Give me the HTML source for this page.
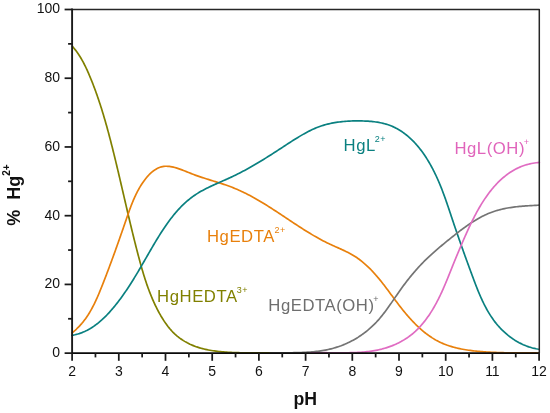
<!DOCTYPE html>
<html><head><meta charset="utf-8"><style>
html,body{margin:0;padding:0;background:#fff;}
body{width:550px;height:413px;overflow:hidden;}
svg{display:block;}
text{font-family:"Liberation Sans",Arial,sans-serif;}
</style></head><body>
<svg width="550" height="413" viewBox="0 0 550 413">
<rect width="550" height="413" fill="#fff"/>
<g fill="none" stroke-width="1.7" stroke-linejoin="round" stroke-linecap="round">
<path stroke="#808000" d="M72.42 46.42 L73.41 47.56 L74.38 48.71 L75.32 49.88 L76.23 51.07 L77.11 52.28 L77.97 53.50 L78.80 54.73 L79.61 55.98 L80.40 57.25 L81.16 58.52 L81.91 59.81 L82.64 61.11 L83.34 62.42 L84.03 63.74 L84.71 65.07 L85.37 66.41 L86.01 67.76 L86.65 69.11 L87.27 70.47 L87.88 71.84 L88.48 73.21 L89.07 74.58 L89.66 75.96 L90.23 77.34 L90.80 78.73 L91.37 80.11 L91.93 81.51 L92.48 82.90 L93.02 84.29 L93.56 85.69 L94.09 87.10 L94.62 88.50 L95.14 89.91 L95.65 91.31 L96.16 92.72 L96.67 94.14 L97.16 95.55 L97.65 96.97 L98.14 98.39 L98.62 99.81 L99.10 101.23 L99.57 102.65 L100.04 104.08 L100.50 105.50 L100.96 106.93 L101.41 108.36 L101.86 109.79 L102.30 111.22 L102.74 112.65 L103.17 114.09 L103.60 115.52 L104.03 116.96 L104.45 118.40 L104.87 119.84 L105.29 121.27 L105.70 122.72 L106.11 124.16 L106.51 125.60 L106.92 127.04 L107.32 128.49 L107.71 129.93 L108.10 131.38 L108.49 132.82 L108.88 134.27 L109.27 135.72 L109.65 137.17 L110.03 138.62 L110.40 140.07 L110.78 141.52 L111.15 142.97 L111.52 144.42 L111.89 145.87 L112.26 147.32 L112.62 148.78 L112.98 150.23 L113.35 151.68 L113.71 153.14 L114.07 154.59 L114.42 156.05 L114.78 157.50 L115.13 158.96 L115.49 160.41 L115.84 161.87 L116.19 163.33 L116.54 164.78 L116.89 166.24 L117.24 167.70 L117.58 169.15 L117.93 170.61 L118.28 172.07 L118.62 173.53 L118.96 174.99 L119.31 176.44 L119.65 177.90 L119.99 179.36 L120.33 180.82 L120.67 182.28 L121.01 183.74 L121.35 185.20 L121.69 186.66 L122.03 188.12 L122.37 189.58 L122.71 191.04 L123.05 192.50 L123.39 193.96 L123.73 195.42 L124.06 196.88 L124.40 198.34 L124.74 199.80 L125.08 201.26 L125.42 202.72 L125.76 204.18 L126.10 205.64 L126.44 207.10 L126.78 208.55 L127.12 210.01 L127.46 211.47 L127.81 212.93 L128.15 214.39 L128.49 215.85 L128.84 217.31 L129.18 218.77 L129.53 220.23 L129.87 221.69 L130.22 223.15 L130.57 224.60 L130.92 226.06 L131.27 227.52 L131.62 228.98 L131.98 230.44 L132.33 231.89 L132.69 233.35 L133.04 234.81 L133.40 236.26 L133.76 237.72 L134.12 239.18 L134.49 240.63 L134.85 242.09 L135.22 243.54 L135.58 245.00 L135.95 246.45 L136.32 247.90 L136.70 249.36 L137.07 250.81 L137.45 252.26 L137.83 253.72 L138.21 255.17 L138.59 256.62 L138.98 258.07 L139.37 259.52 L139.76 260.97 L140.15 262.42 L140.55 263.86 L140.95 265.31 L141.36 266.76 L141.77 268.20 L142.19 269.64 L142.61 271.08 L143.04 272.52 L143.47 273.95 L143.91 275.39 L144.35 276.82 L144.80 278.25 L145.26 279.67 L145.73 281.10 L146.20 282.52 L146.68 283.94 L147.17 285.35 L147.67 286.76 L148.18 288.17 L148.70 289.58 L149.22 290.98 L149.76 292.38 L150.30 293.77 L150.86 295.16 L151.42 296.55 L152.00 297.93 L152.59 299.31 L153.19 300.68 L153.80 302.05 L154.43 303.41 L155.06 304.77 L155.71 306.12 L156.38 307.47 L157.05 308.82 L157.74 310.15 L158.45 311.49 L159.16 312.81 L159.90 314.13 L160.64 315.45 L161.41 316.75 L162.19 318.04 L162.99 319.32 L163.80 320.59 L164.64 321.85 L165.49 323.09 L166.37 324.31 L167.26 325.51 L168.17 326.70 L169.11 327.86 L170.07 329.01 L171.05 330.12 L172.05 331.22 L173.08 332.29 L174.14 333.33 L175.21 334.35 L176.32 335.33 L177.45 336.29 L178.60 337.21 L179.78 338.11 L180.98 338.97 L182.20 339.81 L183.44 340.61 L184.70 341.38 L185.98 342.12 L187.28 342.83 L188.60 343.51 L189.93 344.16 L191.28 344.77 L192.64 345.35 L194.01 345.91 L195.41 346.43 L196.81 346.93 L198.22 347.39 L199.65 347.83 L201.09 348.25 L202.54 348.64 L203.99 349.00 L205.46 349.34 L206.94 349.66 L208.42 349.96 L209.91 350.24 L211.40 350.50 L212.90 350.73 L214.41 350.95 L215.92 351.16 L217.43 351.34 L218.95 351.51 L220.46 351.67 L221.98 351.81 L223.50 351.94 L225.02 352.05 L226.54 352.16 L228.06 352.25 L229.58 352.34 L231.09 352.42 L232.60 352.49 L234.11 352.55 L235.62 352.60 L237.12 352.65 L238.62 352.69 L240.12 352.73 L241.62 352.76 L243.12 352.78 L244.62 352.81 L246.11 352.82 L247.60 352.84 L249.10 352.86 L250.59 352.87 L252.08 352.88 L253.57 352.89 L255.06 352.90 L256.56 352.90 L258.05 352.91 L259.54 352.92 L261.03 352.92 L262.52 352.93 L264.01 352.93 L265.50 352.93 L267.00 352.94 L268.49 352.94 L269.98 352.94 L271.47 352.95 L272.97 352.95 L274.46 352.95 L275.96 352.95 L277.45 352.95 L278.95 352.95 L280.45 352.96 L281.95 352.96 L283.45 352.96 L284.95 352.96 L286.45 352.97 L287.96 352.97 L289.46 352.98 L290.97 352.98 L292.48 352.99 L293.99 353.00 L295.50 353.00 L297.01 353.01 L298.53 353.02 L300.05 353.03"/>
<path stroke="#e8800c" d="M71.83 332.99 L73.05 332.03 L74.23 331.04 L75.39 330.03 L76.51 329.01 L77.60 327.96 L78.67 326.89 L79.70 325.80 L80.71 324.69 L81.69 323.57 L82.65 322.42 L83.58 321.26 L84.49 320.08 L85.37 318.89 L86.23 317.68 L87.07 316.45 L87.89 315.22 L88.69 313.96 L89.47 312.70 L90.23 311.42 L90.97 310.13 L91.70 308.83 L92.40 307.52 L93.10 306.20 L93.78 304.87 L94.44 303.53 L95.09 302.19 L95.73 300.83 L96.36 299.47 L96.98 298.10 L97.58 296.73 L98.18 295.35 L98.77 293.97 L99.35 292.58 L99.92 291.19 L100.49 289.80 L101.05 288.41 L101.61 287.01 L102.16 285.62 L102.71 284.22 L103.26 282.82 L103.81 281.43 L104.35 280.03 L104.89 278.64 L105.43 277.24 L105.97 275.84 L106.50 274.45 L107.03 273.05 L107.56 271.66 L108.09 270.26 L108.62 268.86 L109.14 267.47 L109.66 266.07 L110.18 264.67 L110.70 263.28 L111.22 261.88 L111.73 260.48 L112.24 259.08 L112.76 257.69 L113.27 256.29 L113.77 254.89 L114.28 253.49 L114.79 252.09 L115.29 250.69 L115.79 249.29 L116.29 247.89 L116.79 246.48 L117.29 245.08 L117.79 243.68 L118.29 242.28 L118.79 240.87 L119.28 239.47 L119.78 238.06 L120.27 236.65 L120.76 235.24 L121.25 233.84 L121.75 232.43 L122.24 231.02 L122.73 229.61 L123.22 228.19 L123.71 226.78 L124.19 225.37 L124.68 223.95 L125.17 222.53 L125.66 221.12 L126.15 219.70 L126.64 218.28 L127.13 216.86 L127.62 215.44 L128.11 214.02 L128.61 212.60 L129.12 211.18 L129.63 209.77 L130.15 208.35 L130.68 206.94 L131.21 205.53 L131.76 204.13 L132.32 202.72 L132.90 201.33 L133.48 199.93 L134.09 198.55 L134.70 197.16 L135.34 195.79 L135.99 194.42 L136.67 193.06 L137.36 191.70 L138.08 190.35 L138.82 189.01 L139.58 187.68 L140.36 186.36 L141.17 185.05 L142.01 183.75 L142.88 182.46 L143.77 181.19 L144.69 179.94 L145.63 178.72 L146.60 177.53 L147.59 176.38 L148.61 175.27 L149.65 174.20 L150.71 173.17 L151.80 172.21 L152.91 171.29 L154.04 170.44 L155.20 169.66 L156.37 168.95 L157.57 168.31 L158.79 167.75 L160.03 167.27 L161.28 166.88 L162.56 166.58 L163.86 166.38 L165.17 166.26 L166.51 166.23 L167.85 166.28 L169.22 166.40 L170.59 166.58 L171.98 166.84 L173.39 167.14 L174.80 167.50 L176.22 167.91 L177.66 168.36 L179.10 168.84 L180.54 169.36 L182.00 169.90 L183.46 170.46 L184.92 171.04 L186.39 171.63 L187.85 172.22 L189.32 172.81 L190.79 173.40 L192.26 173.97 L193.72 174.53 L195.19 175.08 L196.65 175.60 L198.11 176.12 L199.56 176.62 L201.01 177.11 L202.47 177.59 L203.91 178.06 L205.36 178.53 L206.80 178.98 L208.24 179.43 L209.67 179.88 L211.10 180.32 L212.53 180.76 L213.96 181.20 L215.38 181.64 L216.80 182.08 L218.21 182.52 L219.62 182.96 L221.02 183.41 L222.43 183.87 L223.82 184.33 L225.22 184.80 L226.61 185.28 L227.99 185.77 L229.37 186.28 L230.74 186.79 L232.11 187.32 L233.48 187.86 L234.84 188.42 L236.20 188.99 L237.55 189.57 L238.89 190.17 L240.24 190.78 L241.58 191.40 L242.91 192.03 L244.24 192.68 L245.57 193.34 L246.89 194.00 L248.21 194.68 L249.52 195.37 L250.83 196.07 L252.14 196.78 L253.45 197.49 L254.75 198.22 L256.05 198.95 L257.34 199.70 L258.63 200.45 L259.92 201.21 L261.21 201.97 L262.49 202.74 L263.77 203.52 L265.05 204.30 L266.32 205.09 L267.60 205.89 L268.87 206.69 L270.14 207.49 L271.40 208.30 L272.67 209.11 L273.93 209.93 L275.19 210.75 L276.45 211.57 L277.71 212.40 L278.97 213.22 L280.22 214.05 L281.47 214.88 L282.73 215.71 L283.98 216.54 L285.23 217.38 L286.47 218.21 L287.72 219.04 L288.97 219.87 L290.22 220.70 L291.46 221.53 L292.71 222.36 L293.96 223.18 L295.21 224.01 L296.46 224.83 L297.71 225.65 L298.96 226.46 L300.21 227.27 L301.47 228.08 L302.72 228.88 L303.98 229.68 L305.25 230.47 L306.51 231.26 L307.78 232.05 L309.05 232.82 L310.32 233.59 L311.60 234.36 L312.88 235.12 L314.16 235.87 L315.45 236.61 L316.75 237.35 L318.05 238.08 L319.35 238.79 L320.66 239.51 L321.97 240.21 L323.29 240.90 L324.62 241.58 L325.95 242.25 L327.28 242.92 L328.63 243.57 L329.98 244.21 L331.34 244.84 L332.70 245.46 L334.07 246.07 L335.44 246.68 L336.81 247.29 L338.18 247.90 L339.56 248.51 L340.92 249.12 L342.29 249.74 L343.65 250.37 L345.01 251.00 L346.35 251.65 L347.69 252.32 L349.02 253.00 L350.34 253.71 L351.64 254.43 L352.93 255.18 L354.21 255.95 L355.47 256.75 L356.71 257.58 L357.93 258.43 L359.14 259.31 L360.34 260.21 L361.52 261.13 L362.68 262.08 L363.83 263.04 L364.97 264.03 L366.09 265.03 L367.19 266.05 L368.28 267.08 L369.36 268.13 L370.42 269.20 L371.47 270.28 L372.51 271.37 L373.53 272.47 L374.54 273.58 L375.53 274.70 L376.52 275.83 L377.49 276.96 L378.45 278.11 L379.40 279.26 L380.34 280.41 L381.27 281.58 L382.20 282.74 L383.12 283.92 L384.03 285.09 L384.93 286.28 L385.83 287.46 L386.73 288.65 L387.62 289.84 L388.51 291.04 L389.40 292.24 L390.28 293.44 L391.17 294.64 L392.06 295.84 L392.95 297.04 L393.84 298.25 L394.73 299.45 L395.62 300.65 L396.52 301.85 L397.43 303.05 L398.34 304.25 L399.26 305.45 L400.18 306.64 L401.11 307.83 L402.05 309.01 L403.00 310.19 L403.95 311.37 L404.91 312.54 L405.89 313.70 L406.87 314.86 L407.85 316.01 L408.85 317.14 L409.86 318.27 L410.87 319.39 L411.90 320.50 L412.93 321.60 L413.98 322.68 L415.03 323.76 L416.10 324.82 L417.18 325.86 L418.26 326.89 L419.36 327.91 L420.47 328.90 L421.59 329.89 L422.72 330.85 L423.87 331.80 L425.02 332.73 L426.19 333.64 L427.38 334.52 L428.57 335.39 L429.78 336.24 L431.00 337.06 L432.23 337.87 L433.48 338.64 L434.74 339.40 L436.01 340.13 L437.30 340.83 L438.60 341.51 L439.92 342.16 L441.25 342.79 L442.60 343.38 L443.96 343.95 L445.34 344.50 L446.72 345.02 L448.12 345.51 L449.53 345.98 L450.96 346.43 L452.39 346.86 L453.83 347.26 L455.28 347.64 L456.74 348.00 L458.21 348.35 L459.68 348.67 L461.16 348.97 L462.65 349.26 L464.14 349.53 L465.64 349.78 L467.14 350.02 L468.65 350.24 L470.16 350.45 L471.67 350.65 L473.18 350.83 L474.69 351.00 L476.21 351.16 L477.72 351.31 L479.24 351.45 L480.75 351.58 L482.26 351.70 L483.77 351.81 L485.27 351.92 L486.77 352.01 L488.27 352.10 L489.77 352.19 L491.26 352.27 L492.76 352.34 L494.25 352.41 L495.74 352.47 L497.22 352.52 L498.71 352.57 L500.20 352.62 L501.68 352.66 L503.16 352.70 L504.65 352.73 L506.13 352.76 L507.61 352.79 L509.09 352.81 L510.58 352.83 L512.06 352.85 L513.54 352.87 L515.03 352.88 L516.51 352.89 L518.00 352.90 L519.49 352.91 L520.98 352.91 L522.47 352.92 L523.96 352.92 L525.46 352.93 L526.96 352.93 L528.46 352.94 L529.96 352.94 L531.47 352.95 L532.98 352.96 L534.49 352.96 L536.01 352.97 L537.53 352.98 L539.05 353.00"/>
<path stroke="#0a8080" d="M71.80 335.36 L73.32 335.09 L74.81 334.78 L76.28 334.43 L77.73 334.03 L79.16 333.60 L80.57 333.12 L81.96 332.61 L83.33 332.05 L84.69 331.46 L86.02 330.84 L87.33 330.18 L88.63 329.48 L89.91 328.76 L91.17 328.00 L92.41 327.21 L93.64 326.40 L94.85 325.55 L96.04 324.68 L97.22 323.79 L98.38 322.86 L99.52 321.92 L100.65 320.95 L101.77 319.97 L102.87 318.96 L103.96 317.93 L105.03 316.89 L106.09 315.83 L107.13 314.75 L108.16 313.66 L109.18 312.56 L110.19 311.44 L111.18 310.31 L112.16 309.17 L113.13 308.03 L114.09 306.87 L115.04 305.71 L115.97 304.55 L116.90 303.38 L117.82 302.20 L118.72 301.02 L119.62 299.83 L120.51 298.64 L121.38 297.44 L122.25 296.24 L123.12 295.03 L123.97 293.82 L124.81 292.60 L125.65 291.38 L126.48 290.16 L127.31 288.93 L128.12 287.69 L128.93 286.46 L129.74 285.21 L130.54 283.97 L131.33 282.72 L132.12 281.46 L132.90 280.21 L133.68 278.95 L134.46 277.68 L135.23 276.42 L136.00 275.15 L136.76 273.87 L137.53 272.60 L138.29 271.32 L139.04 270.04 L139.80 268.75 L140.55 267.46 L141.30 266.17 L142.05 264.88 L142.80 263.59 L143.55 262.29 L144.30 260.99 L145.05 259.69 L145.80 258.39 L146.55 257.09 L147.31 255.78 L148.06 254.47 L148.81 253.16 L149.57 251.85 L150.33 250.54 L151.09 249.23 L151.86 247.92 L152.62 246.60 L153.39 245.29 L154.17 243.98 L154.95 242.66 L155.73 241.35 L156.52 240.05 L157.31 238.74 L158.11 237.44 L158.91 236.14 L159.72 234.84 L160.53 233.55 L161.36 232.27 L162.18 230.99 L163.02 229.71 L163.86 228.45 L164.71 227.19 L165.57 225.93 L166.43 224.69 L167.31 223.45 L168.19 222.22 L169.08 221.00 L169.98 219.79 L170.89 218.59 L171.81 217.40 L172.74 216.23 L173.68 215.06 L174.63 213.91 L175.59 212.77 L176.57 211.64 L177.55 210.53 L178.55 209.43 L179.56 208.34 L180.58 207.27 L181.61 206.22 L182.66 205.18 L183.72 204.16 L184.79 203.16 L185.88 202.17 L186.98 201.20 L188.10 200.25 L189.23 199.32 L190.37 198.41 L191.53 197.51 L192.71 196.64 L193.90 195.79 L195.11 194.96 L196.34 194.15 L197.58 193.36 L198.84 192.60 L200.10 191.85 L201.39 191.11 L202.68 190.40 L203.99 189.70 L205.31 189.01 L206.63 188.33 L207.97 187.67 L209.31 187.02 L210.66 186.38 L212.02 185.74 L213.38 185.11 L214.75 184.49 L216.13 183.88 L217.50 183.27 L218.88 182.66 L220.26 182.05 L221.64 181.45 L223.02 180.84 L224.40 180.23 L225.78 179.62 L227.16 179.01 L228.53 178.39 L229.90 177.76 L231.27 177.13 L232.63 176.49 L233.98 175.85 L235.33 175.19 L236.67 174.53 L238.01 173.86 L239.34 173.18 L240.67 172.50 L241.99 171.80 L243.31 171.11 L244.63 170.40 L245.94 169.69 L247.24 168.97 L248.54 168.25 L249.84 167.52 L251.14 166.79 L252.43 166.05 L253.72 165.30 L255.00 164.55 L256.29 163.80 L257.56 163.04 L258.84 162.27 L260.11 161.50 L261.39 160.73 L262.66 159.95 L263.92 159.17 L265.19 158.39 L266.45 157.60 L267.71 156.80 L268.97 156.01 L270.23 155.21 L271.49 154.41 L272.75 153.61 L274.00 152.80 L275.26 151.99 L276.51 151.18 L277.77 150.37 L279.02 149.56 L280.27 148.74 L281.53 147.92 L282.78 147.11 L284.03 146.29 L285.29 145.47 L286.54 144.65 L287.80 143.83 L289.06 143.01 L290.31 142.19 L291.57 141.38 L292.84 140.57 L294.10 139.77 L295.37 138.97 L296.64 138.18 L297.92 137.40 L299.19 136.62 L300.48 135.86 L301.76 135.11 L303.06 134.37 L304.35 133.64 L305.65 132.93 L306.96 132.23 L308.28 131.55 L309.60 130.88 L310.92 130.23 L312.26 129.60 L313.60 128.99 L314.95 128.40 L316.30 127.83 L317.67 127.29 L319.04 126.77 L320.42 126.27 L321.81 125.80 L323.21 125.35 L324.62 124.93 L326.04 124.53 L327.47 124.16 L328.90 123.81 L330.35 123.48 L331.80 123.18 L333.25 122.89 L334.72 122.63 L336.19 122.39 L337.67 122.17 L339.15 121.97 L340.64 121.79 L342.14 121.63 L343.64 121.48 L345.15 121.36 L346.66 121.25 L348.17 121.15 L349.69 121.08 L351.22 121.01 L352.74 120.97 L354.27 120.93 L355.81 120.91 L357.35 120.91 L358.89 120.91 L360.43 120.93 L361.97 120.96 L363.52 121.00 L365.06 121.06 L366.60 121.13 L368.14 121.22 L369.68 121.33 L371.21 121.46 L372.74 121.61 L374.26 121.78 L375.77 121.98 L377.27 122.20 L378.76 122.44 L380.24 122.72 L381.71 123.02 L383.16 123.36 L384.60 123.72 L386.03 124.12 L387.43 124.55 L388.82 125.02 L390.19 125.53 L391.54 126.07 L392.88 126.64 L394.19 127.25 L395.49 127.88 L396.77 128.55 L398.03 129.25 L399.28 129.98 L400.51 130.75 L401.72 131.53 L402.92 132.35 L404.09 133.20 L405.26 134.07 L406.40 134.97 L407.53 135.89 L408.64 136.84 L409.73 137.81 L410.81 138.81 L411.88 139.82 L412.92 140.86 L413.95 141.92 L414.97 143.01 L415.97 144.11 L416.95 145.23 L417.92 146.37 L418.88 147.52 L419.81 148.70 L420.74 149.89 L421.65 151.09 L422.54 152.31 L423.42 153.54 L424.28 154.79 L425.13 156.05 L425.96 157.32 L426.78 158.61 L427.59 159.90 L428.38 161.21 L429.16 162.52 L429.93 163.84 L430.68 165.17 L431.41 166.51 L432.14 167.85 L432.85 169.20 L433.54 170.56 L434.23 171.91 L434.90 173.28 L435.55 174.64 L436.20 176.01 L436.83 177.38 L437.45 178.75 L438.06 180.12 L438.66 181.50 L439.25 182.88 L439.82 184.26 L440.39 185.64 L440.95 187.03 L441.50 188.41 L442.04 189.80 L442.58 191.19 L443.10 192.58 L443.62 193.98 L444.13 195.37 L444.64 196.77 L445.14 198.16 L445.64 199.56 L446.13 200.96 L446.62 202.36 L447.10 203.76 L447.58 205.17 L448.06 206.57 L448.53 207.97 L449.00 209.38 L449.48 210.78 L449.94 212.19 L450.41 213.60 L450.88 215.01 L451.35 216.41 L451.82 217.82 L452.29 219.23 L452.76 220.64 L453.24 222.05 L453.71 223.46 L454.19 224.87 L454.67 226.28 L455.15 227.69 L455.63 229.10 L456.11 230.51 L456.60 231.92 L457.08 233.33 L457.57 234.74 L458.06 236.15 L458.55 237.57 L459.04 238.98 L459.53 240.39 L460.03 241.80 L460.52 243.21 L461.02 244.63 L461.52 246.04 L462.02 247.45 L462.52 248.86 L463.02 250.28 L463.53 251.69 L464.03 253.10 L464.54 254.51 L465.05 255.93 L465.56 257.34 L466.07 258.76 L466.58 260.17 L467.09 261.58 L467.60 263.00 L468.12 264.41 L468.64 265.82 L469.15 267.24 L469.67 268.65 L470.19 270.07 L470.71 271.48 L471.24 272.89 L471.76 274.31 L472.28 275.72 L472.81 277.14 L473.34 278.55 L473.87 279.97 L474.40 281.38 L474.93 282.79 L475.47 284.20 L476.02 285.61 L476.56 287.01 L477.12 288.41 L477.68 289.81 L478.24 291.20 L478.82 292.59 L479.40 293.98 L479.99 295.35 L480.59 296.73 L481.20 298.10 L481.81 299.46 L482.44 300.81 L483.08 302.16 L483.73 303.50 L484.40 304.83 L485.08 306.15 L485.77 307.46 L486.47 308.77 L487.19 310.06 L487.93 311.34 L488.68 312.62 L489.45 313.88 L490.23 315.13 L491.04 316.37 L491.86 317.59 L492.70 318.81 L493.55 320.01 L494.43 321.19 L495.33 322.37 L496.25 323.53 L497.20 324.67 L498.16 325.80 L499.15 326.91 L500.16 328.00 L501.19 329.08 L502.25 330.15 L503.33 331.19 L504.43 332.21 L505.56 333.22 L506.70 334.20 L507.86 335.16 L509.05 336.10 L510.25 337.01 L511.48 337.90 L512.72 338.77 L513.97 339.60 L515.25 340.42 L516.54 341.20 L517.85 341.95 L519.17 342.68 L520.51 343.37 L521.87 344.04 L523.23 344.67 L524.61 345.26 L526.01 345.83 L527.41 346.36 L528.83 346.85 L530.26 347.30 L531.70 347.72 L533.15 348.10 L534.61 348.44 L536.07 348.75 L537.55 349.01 L539.04 349.22"/>
<path stroke="#747474" d="M270.07 353.03 L271.54 352.99 L273.02 352.96 L274.50 352.94 L275.98 352.92 L277.46 352.90 L278.94 352.88 L280.42 352.87 L281.90 352.85 L283.39 352.84 L284.88 352.83 L286.36 352.81 L287.85 352.80 L289.34 352.78 L290.84 352.76 L292.33 352.74 L293.83 352.71 L295.32 352.68 L296.82 352.65 L298.32 352.61 L299.83 352.56 L301.33 352.51 L302.84 352.45 L304.34 352.38 L305.85 352.31 L307.36 352.22 L308.86 352.12 L310.37 352.02 L311.87 351.89 L313.38 351.76 L314.88 351.61 L316.38 351.45 L317.87 351.27 L319.37 351.08 L320.85 350.87 L322.34 350.64 L323.82 350.39 L325.29 350.12 L326.76 349.83 L328.23 349.52 L329.68 349.19 L331.13 348.83 L332.58 348.45 L334.01 348.05 L335.44 347.63 L336.86 347.18 L338.28 346.71 L339.68 346.22 L341.08 345.71 L342.46 345.17 L343.84 344.61 L345.21 344.04 L346.56 343.44 L347.91 342.82 L349.25 342.18 L350.58 341.51 L351.89 340.83 L353.20 340.13 L354.49 339.41 L355.77 338.66 L357.04 337.90 L358.30 337.12 L359.54 336.31 L360.77 335.49 L361.99 334.65 L363.20 333.79 L364.39 332.91 L365.57 332.01 L366.73 331.09 L367.88 330.16 L369.01 329.20 L370.13 328.23 L371.23 327.24 L372.32 326.23 L373.39 325.21 L374.45 324.16 L375.48 323.10 L376.51 322.03 L377.51 320.93 L378.50 319.82 L379.48 318.70 L380.44 317.56 L381.39 316.41 L382.33 315.24 L383.26 314.07 L384.17 312.88 L385.08 311.69 L385.98 310.48 L386.86 309.27 L387.75 308.05 L388.62 306.82 L389.49 305.59 L390.36 304.36 L391.22 303.12 L392.08 301.87 L392.94 300.63 L393.79 299.38 L394.65 298.14 L395.50 296.89 L396.36 295.65 L397.21 294.40 L398.07 293.17 L398.94 291.93 L399.80 290.70 L400.67 289.47 L401.55 288.25 L402.43 287.04 L403.32 285.83 L404.22 284.63 L405.12 283.43 L406.02 282.24 L406.93 281.06 L407.85 279.88 L408.77 278.71 L409.70 277.55 L410.64 276.39 L411.58 275.24 L412.54 274.10 L413.49 272.96 L414.46 271.83 L415.43 270.71 L416.41 269.59 L417.40 268.49 L418.40 267.39 L419.40 266.29 L420.41 265.21 L421.43 264.13 L422.46 263.07 L423.50 262.01 L424.55 260.95 L425.61 259.91 L426.67 258.87 L427.74 257.85 L428.82 256.82 L429.91 255.81 L431.01 254.80 L432.11 253.80 L433.22 252.81 L434.34 251.82 L435.46 250.83 L436.59 249.85 L437.72 248.88 L438.86 247.91 L440.00 246.94 L441.15 245.98 L442.30 245.02 L443.46 244.06 L444.62 243.11 L445.78 242.16 L446.94 241.21 L448.11 240.26 L449.28 239.32 L450.45 238.37 L451.62 237.43 L452.80 236.49 L453.98 235.55 L455.16 234.61 L456.34 233.68 L457.53 232.75 L458.72 231.83 L459.91 230.92 L461.11 230.01 L462.31 229.11 L463.52 228.22 L464.73 227.33 L465.95 226.46 L467.17 225.60 L468.40 224.75 L469.63 223.91 L470.87 223.08 L472.12 222.27 L473.37 221.47 L474.63 220.69 L475.90 219.92 L477.18 219.17 L478.46 218.43 L479.75 217.72 L481.05 217.02 L482.36 216.34 L483.68 215.68 L485.01 215.04 L486.34 214.43 L487.69 213.83 L489.04 213.26 L490.41 212.71 L491.79 212.19 L493.18 211.69 L494.58 211.21 L495.99 210.77 L497.41 210.35 L498.84 209.95 L500.28 209.57 L501.73 209.22 L503.19 208.89 L504.65 208.58 L506.13 208.29 L507.61 208.02 L509.09 207.77 L510.58 207.54 L512.07 207.32 L513.57 207.11 L515.07 206.93 L516.57 206.75 L518.08 206.59 L519.59 206.44 L521.09 206.30 L522.60 206.17 L524.11 206.05 L525.61 205.94 L527.12 205.84 L528.62 205.74 L530.12 205.65 L531.61 205.56 L533.10 205.48 L534.58 205.40 L536.06 205.32 L537.54 205.24 L539.00 205.17"/>
<path stroke="#e06cc2" d="M310.30 353.09 L311.71 353.01 L313.13 352.94 L314.56 352.89 L315.99 352.84 L317.43 352.80 L318.88 352.77 L320.34 352.75 L321.80 352.74 L323.27 352.73 L324.74 352.72 L326.22 352.72 L327.71 352.73 L329.20 352.73 L330.69 352.74 L332.19 352.75 L333.69 352.76 L335.20 352.77 L336.71 352.78 L338.22 352.79 L339.73 352.80 L341.25 352.80 L342.77 352.80 L344.29 352.80 L345.81 352.79 L347.33 352.77 L348.85 352.75 L350.38 352.72 L351.90 352.68 L353.42 352.63 L354.94 352.57 L356.46 352.51 L357.98 352.43 L359.50 352.34 L361.01 352.23 L362.52 352.12 L364.03 351.99 L365.54 351.84 L367.04 351.68 L368.54 351.50 L370.04 351.31 L371.53 351.09 L373.01 350.86 L374.49 350.61 L375.97 350.34 L377.44 350.05 L378.90 349.74 L380.36 349.40 L381.81 349.05 L383.25 348.66 L384.68 348.26 L386.11 347.83 L387.53 347.38 L388.93 346.91 L390.33 346.41 L391.72 345.89 L393.09 345.34 L394.46 344.77 L395.81 344.18 L397.15 343.56 L398.47 342.92 L399.78 342.26 L401.08 341.57 L402.36 340.85 L403.62 340.11 L404.87 339.35 L406.10 338.56 L407.32 337.75 L408.52 336.91 L409.69 336.05 L410.85 335.16 L412.00 334.25 L413.12 333.31 L414.22 332.35 L415.31 331.37 L416.37 330.36 L417.42 329.34 L418.46 328.29 L419.47 327.23 L420.47 326.15 L421.45 325.04 L422.41 323.92 L423.36 322.78 L424.29 321.63 L425.21 320.46 L426.11 319.28 L426.99 318.08 L427.86 316.86 L428.71 315.64 L429.55 314.40 L430.37 313.15 L431.18 311.89 L431.98 310.61 L432.76 309.33 L433.52 308.04 L434.28 306.74 L435.01 305.43 L435.74 304.12 L436.45 302.80 L437.16 301.47 L437.84 300.14 L438.52 298.80 L439.19 297.45 L439.85 296.10 L440.49 294.74 L441.13 293.38 L441.76 292.02 L442.38 290.65 L443.00 289.28 L443.60 287.90 L444.20 286.53 L444.79 285.14 L445.38 283.76 L445.96 282.37 L446.54 280.98 L447.11 279.59 L447.68 278.20 L448.25 276.81 L448.81 275.42 L449.37 274.02 L449.93 272.63 L450.49 271.24 L451.05 269.84 L451.60 268.45 L452.16 267.06 L452.72 265.67 L453.28 264.28 L453.84 262.90 L454.40 261.51 L454.97 260.13 L455.53 258.75 L456.10 257.37 L456.67 255.99 L457.25 254.61 L457.82 253.24 L458.40 251.86 L458.98 250.49 L459.56 249.12 L460.14 247.74 L460.72 246.37 L461.31 245.00 L461.90 243.63 L462.49 242.26 L463.09 240.89 L463.68 239.52 L464.28 238.14 L464.89 236.77 L465.49 235.40 L466.10 234.03 L466.71 232.67 L467.33 231.30 L467.95 229.93 L468.58 228.57 L469.21 227.21 L469.85 225.85 L470.49 224.49 L471.14 223.14 L471.80 221.79 L472.46 220.45 L473.13 219.10 L473.81 217.77 L474.49 216.43 L475.19 215.10 L475.89 213.78 L476.60 212.46 L477.32 211.15 L478.05 209.84 L478.79 208.54 L479.54 207.25 L480.30 205.96 L481.08 204.68 L481.86 203.40 L482.66 202.14 L483.46 200.88 L484.28 199.63 L485.12 198.39 L485.96 197.15 L486.82 195.93 L487.69 194.72 L488.58 193.51 L489.48 192.32 L490.39 191.14 L491.32 189.97 L492.27 188.82 L493.22 187.68 L494.20 186.56 L495.19 185.45 L496.19 184.36 L497.21 183.28 L498.25 182.22 L499.30 181.19 L500.37 180.17 L501.45 179.17 L502.55 178.19 L503.67 177.24 L504.81 176.30 L505.96 175.40 L507.13 174.51 L508.32 173.65 L509.52 172.81 L510.75 172.00 L511.99 171.22 L513.25 170.47 L514.53 169.74 L515.83 169.04 L517.15 168.38 L518.49 167.74 L519.85 167.13 L521.22 166.56 L522.62 166.02 L524.04 165.52 L525.48 165.04 L526.94 164.61 L528.42 164.21 L529.92 163.84 L531.45 163.51 L532.99 163.23 L534.56 162.98 L536.15 162.77 L537.76 162.60 L539.39 162.47"/>
</g>
<g stroke="#1a1a1a" stroke-width="1.75" fill="none">
<path d="M72.10 9.50 H539.30 V353.15" stroke="#262626" stroke-width="1.5" stroke-linejoin="round"/>
<line x1="72.10" y1="9.50" x2="72.10" y2="353.15" stroke-width="1.9" stroke-linecap="square"/>
<line x1="72.10" y1="353.15" x2="539.10" y2="353.15" stroke-width="1.9" stroke="#0a0a0a"/>
<line x1="64.6" y1="353.15" x2="72.1" y2="353.15"/>
<line x1="68.1" y1="318.78" x2="72.1" y2="318.78"/>
<line x1="64.6" y1="284.42" x2="72.1" y2="284.42"/>
<line x1="68.1" y1="250.05" x2="72.1" y2="250.05"/>
<line x1="64.6" y1="215.69" x2="72.1" y2="215.69"/>
<line x1="68.1" y1="181.32" x2="72.1" y2="181.32"/>
<line x1="64.6" y1="146.96" x2="72.1" y2="146.96"/>
<line x1="68.1" y1="112.59" x2="72.1" y2="112.59"/>
<line x1="64.6" y1="78.23" x2="72.1" y2="78.23"/>
<line x1="68.1" y1="43.87" x2="72.1" y2="43.87"/>
<line x1="64.6" y1="9.50" x2="72.1" y2="9.50"/>
<line x1="72.10" y1="353.1" x2="72.10" y2="360.8"/>
<line x1="95.45" y1="353.1" x2="95.45" y2="357.4"/>
<line x1="118.80" y1="353.1" x2="118.80" y2="360.8"/>
<line x1="142.15" y1="353.1" x2="142.15" y2="357.4"/>
<line x1="165.50" y1="353.1" x2="165.50" y2="360.8"/>
<line x1="188.85" y1="353.1" x2="188.85" y2="357.4"/>
<line x1="212.20" y1="353.1" x2="212.20" y2="360.8"/>
<line x1="235.55" y1="353.1" x2="235.55" y2="357.4"/>
<line x1="258.90" y1="353.1" x2="258.90" y2="360.8"/>
<line x1="282.25" y1="353.1" x2="282.25" y2="357.4"/>
<line x1="305.60" y1="353.1" x2="305.60" y2="360.8"/>
<line x1="328.95" y1="353.1" x2="328.95" y2="357.4"/>
<line x1="352.30" y1="353.1" x2="352.30" y2="360.8"/>
<line x1="375.65" y1="353.1" x2="375.65" y2="357.4"/>
<line x1="399.00" y1="353.1" x2="399.00" y2="360.8"/>
<line x1="422.35" y1="353.1" x2="422.35" y2="357.4"/>
<line x1="445.70" y1="353.1" x2="445.70" y2="360.8"/>
<line x1="469.05" y1="353.1" x2="469.05" y2="357.4"/>
<line x1="492.40" y1="353.1" x2="492.40" y2="360.8"/>
<line x1="515.75" y1="353.1" x2="515.75" y2="357.4"/>
<line x1="539.10" y1="353.1" x2="539.10" y2="360.8"/>
</g>
<g font-size="14" fill="#111">
<text x="60" y="357.0" text-anchor="end">0</text>
<text x="60" y="288.3" text-anchor="end">20</text>
<text x="60" y="219.6" text-anchor="end">40</text>
<text x="60" y="150.9" text-anchor="end">60</text>
<text x="60" y="82.1" text-anchor="end">80</text>
<text x="60" y="13.4" text-anchor="end">100</text>
<text x="72.1" y="376" text-anchor="middle">2</text>
<text x="118.8" y="376" text-anchor="middle">3</text>
<text x="165.5" y="376" text-anchor="middle">4</text>
<text x="212.2" y="376" text-anchor="middle">5</text>
<text x="258.9" y="376" text-anchor="middle">6</text>
<text x="305.6" y="376" text-anchor="middle">7</text>
<text x="352.3" y="376" text-anchor="middle">8</text>
<text x="399.0" y="376" text-anchor="middle">9</text>
<text x="445.7" y="376" text-anchor="middle">10</text>
<text x="492.4" y="376" text-anchor="middle">11</text>
<text x="539.1" y="376" text-anchor="middle">12</text>
</g>
<text x="305.2" y="405" font-size="17.7" font-weight="bold" text-anchor="middle" fill="#111">pH</text>
<text transform="translate(19.8,225.8) rotate(-90)" font-size="18" font-weight="bold" fill="#111">%&#160;&#160;Hg<tspan font-size="10" dy="-10">2+</tspan></text>
<g font-size="16.7" letter-spacing="0.55">
<text x="343.6" y="150.7" fill="#0a8080">HgL<tspan font-size="9" dx="-1.1" dy="-8.9">2+</tspan></text>
<text x="454.4" y="153.6" fill="#e064bb">HgL(OH)<tspan font-size="9" dx="-1.2" dy="-8.6">+</tspan></text>
<text x="207" y="241.8" fill="#e8800c">HgEDTA<tspan font-size="9" dx="-0.5" dy="-8.8">2+</tspan></text>
<text x="157.1" y="301.6" fill="#808000">HgHEDTA<tspan font-size="9" dx="-0.8" dy="-8.7">3+</tspan></text>
<text x="268.3" y="310.5" fill="#6e6e6e">HgEDTA(OH)<tspan font-size="9" dx="-1.2" dy="-8.8">+</tspan></text>
</g>
</svg>
</body></html>
